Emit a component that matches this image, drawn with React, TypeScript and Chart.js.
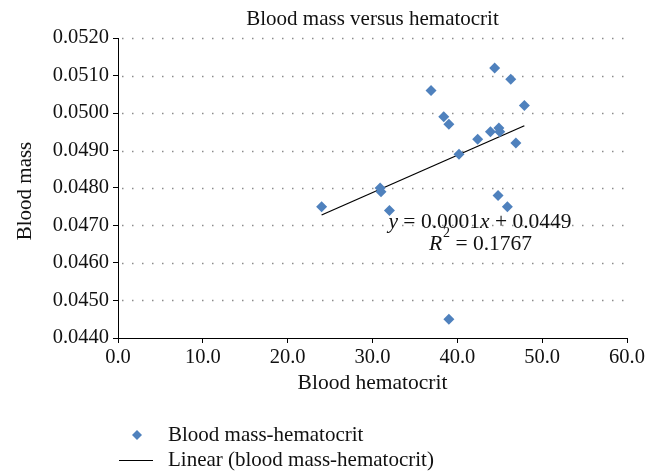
import React, { useEffect, useRef } from "react";
import { Chart, registerables } from "chart.js";

Chart.register(...registerables);

const chartTitle = "Blood mass versus hematocrit";
const xAxisTitle = "Blood hematocrit";
const yAxisTitle = "Blood mass";
const seriesName = "Blood mass-hematocrit";
const trendName = "Linear (blood mass-hematocrit)";

const hematocrit = [24.0, 30.9, 31.0, 32.0, 36.9, 38.4, 39.0, 40.2, 42.4, 43.9, 44.4, 44.9, 45.0, 44.8, 45.9, 46.3, 46.9, 47.9, 39.0];
const bloodMass = [0.0475, 0.0480, 0.0479, 0.0474, 0.0506, 0.0499, 0.0497, 0.0489, 0.0493, 0.0495, 0.0512, 0.0496, 0.0495, 0.0478, 0.0475, 0.0509, 0.0492, 0.0502, 0.0445];

const trendX = [24.0, 47.9];
const trendY = [0.04728, 0.04966];

const xMin = 0, xMax = 60, xStep = 10;
const yMin = 0.044, yMax = 0.052, yStep = 0.001;

const FONT = "'Liberation Serif', 'DejaVu Serif', serif";
const BLUE = "#4F81BD";

const textPlugin = {
  id: "customText",
  beforeDatasetsDraw(chart: any) {
    const { ctx, chartArea, scales } = chart;
    const y = scales.y;
    ctx.save();
    ctx.strokeStyle = "#8c8c8c";
    ctx.lineWidth = 1.5;
    ctx.setLineDash([1.5, 8.5]);
    y.ticks.forEach((t: any) => {
      if (Math.abs(t.value - yMin) < 1e-9) return;
      const py = Math.round(y.getPixelForValue(t.value)) + 0.5;
      ctx.beginPath();
      ctx.moveTo(chartArea.left + 4, py);
      ctx.lineTo(chartArea.right, py);
      ctx.stroke();
    });
    ctx.restore();
  },
  afterDraw(chart: any) {
    const { ctx, chartArea } = chart;
    const cx = (chartArea.left + chartArea.right) / 2;
    ctx.save();
    ctx.fillStyle = "#111";
    ctx.textBaseline = "middle";
    ctx.textAlign = "center";
    ctx.font = `21px ${FONT}`;
    ctx.fillText(chartTitle, cx, chartArea.top - 19);
    ctx.font = `21.5px ${FONT}`;
    ctx.fillText(xAxisTitle, cx, chartArea.bottom + 45);
    ctx.save();
    ctx.font = `21px ${FONT}`;
    ctx.translate(17, (chartArea.top + chartArea.bottom) / 2 + 3);
    ctx.rotate(-Math.PI / 2);
    ctx.fillText(yAxisTitle, 0, 0);
    ctx.restore();

    // regression equation
    const drawParts = (parts: [string, boolean, number?][], centerX: number, centerY: number, size: number) => {
      let total = 0;
      const widths = parts.map(([s, it, sup]) => {
        ctx.font = `${it ? "italic " : ""}${sup ? size * 0.65 : size}px ${FONT}`;
        const w = ctx.measureText(s).width;
        total += w;
        return w;
      });
      let x = centerX - total / 2;
      ctx.textAlign = "left";
      parts.forEach(([s, it, sup], i) => {
        ctx.font = `${it ? "italic " : ""}${sup ? size * 0.65 : size}px ${FONT}`;
        ctx.fillText(s, x + (sup ? 1 : 0), centerY - (sup ? size * 0.5 : 0));
        x += widths[i] + (sup ? 1 : 0);
      });
    };
    const ex = chartArea.left + 362;
    drawParts([["y", true], [" = 0.0001", false], ["x", true], [" + 0.0449", false]], ex, chartArea.top + 184, 21.5);
    drawParts([["R", true], ["2", false, 1], [" = 0.1767", false]], ex, chartArea.top + 206, 21.5);

    // legend
    const lx = chartArea.left + 19;
    const ly1 = chartArea.bottom + 97;
    const ly2 = chartArea.bottom + 122;
    ctx.fillStyle = BLUE;
    ctx.beginPath();
    ctx.moveTo(lx, ly1 - 5);
    ctx.lineTo(lx + 5, ly1);
    ctx.lineTo(lx, ly1 + 5);
    ctx.lineTo(lx - 5, ly1);
    ctx.closePath();
    ctx.fill();
    ctx.strokeStyle = "#000";
    ctx.lineWidth = 1;
    ctx.beginPath();
    ctx.moveTo(chartArea.left + 1, Math.round(ly2) + 0.5);
    ctx.lineTo(chartArea.left + 35, Math.round(ly2) + 0.5);
    ctx.stroke();
    ctx.fillStyle = "#111";
    ctx.font = `21px ${FONT}`;
    ctx.textAlign = "left";
    ctx.fillText(seriesName, chartArea.left + 50, ly1);
    ctx.fillText(trendName, chartArea.left + 50, ly2);
    ctx.restore();
  },
};

export default function App() {
  const ref = useRef<HTMLCanvasElement | null>(null);
  useEffect(() => {
    if (!ref.current) return;
    const points = hematocrit.map((x, i) => ({ x, y: bloodMass[i] }));
    const trend = trendX.map((x, i) => ({ x, y: trendY[i] }));
    const chart = new Chart(ref.current, {
      type: "scatter",
      data: {
        datasets: [
          {
            label: seriesName,
            data: points,
            pointStyle: "rectRot",
            pointRadius: 5.5,
            backgroundColor: BLUE,
            borderColor: BLUE,
            borderWidth: 0,
          },
          {
            label: trendName,
            type: "line",
            data: trend,
            borderColor: "#000",
            borderWidth: 1.3,
            pointRadius: 0,
            fill: false,
          },
        ],
      },
      options: {
        animation: false,
        responsive: false,
        maintainAspectRatio: false,
        layout: { padding: { left: 0, top: 30, right: 21, bottom: 0 } },
        plugins: { legend: { display: false }, tooltip: { enabled: false }, title: { display: false } },
        scales: {
          x: {
            type: "linear",
            min: xMin,
            max: xMax,
            afterFit: (s: any) => { s.height = 135; },
            afterBuildTicks: (s: any) => {
              const t = [];
              for (let v = xMin; v <= xMax + 1e-9; v += xStep) t.push({ value: v });
              s.ticks = t;
            },
            ticks: {
              color: "#111",
              font: { family: FONT, size: 20.5 },
              padding: 2,
              maxRotation: 0,
              callback: (v: any) => Number(v).toFixed(1),
            },
            grid: { drawOnChartArea: false, drawTicks: true, tickLength: 5, color: "#000" },
            border: { color: "#000", width: 1 },
          },
          y: {
            type: "linear",
            min: yMin,
            max: yMax,
            afterFit: (s: any) => { s.width = 110; },
            afterBuildTicks: (s: any) => {
              const t = [];
              for (let i = 0; i <= Math.round((yMax - yMin) / yStep); i++) t.push({ value: yMin + i * yStep });
              s.ticks = t;
            },
            ticks: {
              color: "#111",
              font: { family: FONT, size: 20.5 },
              padding: 4,
              callback: (v: any) => Number(v).toFixed(4),
            },
            grid: { drawOnChartArea: false, drawTicks: true, tickLength: 5, color: "#000" },
            border: { color: "#000", width: 1 },
          },
        },
      },
      plugins: [textPlugin],
    });
    return () => chart.destroy();
  }, []);
  return (
    <div style={{ width: 640, height: 465, position: "relative" }}>
      <canvas ref={ref} width={640} height={465} style={{ width: 640, height: 465, display: "block" }} />
    </div>
  );
}
